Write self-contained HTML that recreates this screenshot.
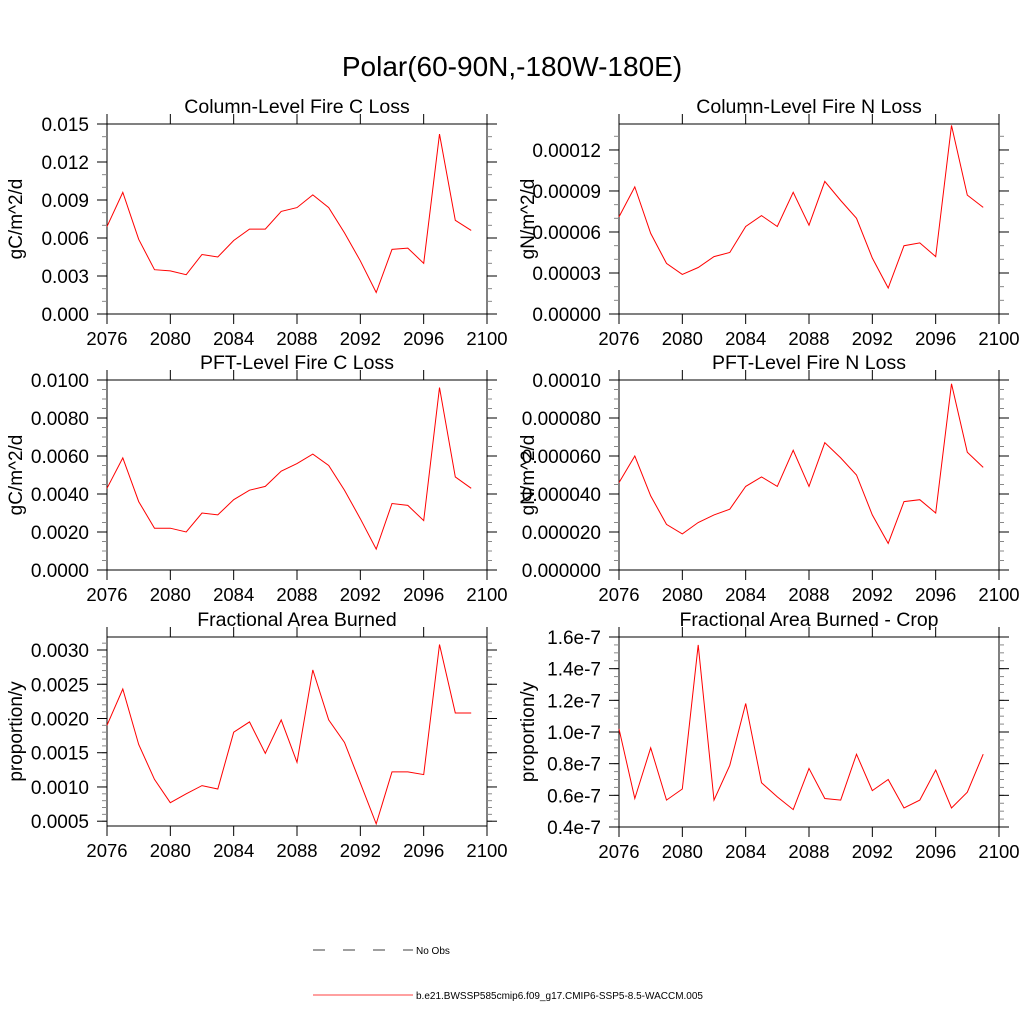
<!DOCTYPE html>
<html><head><meta charset="utf-8"><style>
body{margin:0;background:#fff;}
svg{display:block;font-family:"Liberation Sans",sans-serif;}
</style></head><body>
<svg id="c" width="1024" height="1024" viewBox="0 0 1024 1024" xmlns="http://www.w3.org/2000/svg">
<text x="512" y="76" font-size="28" text-anchor="middle">Polar(60-90N,-180W-180E)</text>
<g>
<line x1="313" y1="950" x2="413" y2="950" stroke="#000" stroke-width="0.8" stroke-dasharray="12,18"/>
<text x="416" y="954" font-size="10">No Obs</text>
<line x1="313" y1="995" x2="413" y2="995" stroke="red" stroke-width="0.8"/>
<text x="416" y="999" font-size="10">b.e21.BWSSP585cmip6.f09_g17.CMIP6-SSP5-8.5-WACCM.005</text>
</g>
</svg>
<script>
const years=[2076,2077,2078,2079,2080,2081,2082,2083,2084,2085,2086,2087,2088,2089,2090,2091,2092,2093,2094,2095,2096,2097,2098,2099];
const xTicks=[2076,2080,2084,2088,2092,2096,2100];
const colC=[.0069,.0096,.0059,.0035,.0034,.0031,.0047,.0045,.0058,.0067,.0067,.0081,.0084,.0094,.0084,.0064,.0042,.0017,.0051,.0052,.0040,.0142,.0074,.0066];
const colN=[7.1e-5,9.3e-5,5.9e-5,3.7e-5,2.9e-5,3.4e-5,4.2e-5,4.5e-5,6.4e-5,7.2e-5,6.4e-5,8.9e-5,6.5e-5,9.7e-5,8.3e-5,7.0e-5,4.1e-5,1.9e-5,5.0e-5,5.2e-5,4.2e-5,1.38e-4,8.7e-5,7.8e-5];
const pftC=[.0043,.0059,.0036,.0022,.0022,.0020,.0030,.0029,.0037,.0042,.0044,.0052,.0056,.0061,.0055,.0042,.0027,.0011,.0035,.0034,.0026,.0096,.0049,.0043];
const pftN=[4.6e-5,6.0e-5,3.9e-5,2.4e-5,1.9e-5,2.5e-5,2.9e-5,3.2e-5,4.4e-5,4.9e-5,4.4e-5,6.3e-5,4.4e-5,6.7e-5,5.9e-5,5.0e-5,2.9e-5,1.4e-5,3.6e-5,3.7e-5,3.0e-5,9.8e-5,6.2e-5,5.4e-5];
const farea=[.0019,.00243,.00162,.00111,.00077,.00090,.00102,.00097,.00180,.00195,.00149,.00198,.00136,.00271,.00198,.00165,.00106,.00046,.00122,.00122,.00118,.00308,.00208,.00208];
const fcrop=[1.02e-7,0.58e-7,0.90e-7,0.57e-7,0.64e-7,1.55e-7,0.57e-7,0.79e-7,1.18e-7,0.68e-7,0.59e-7,0.51e-7,0.77e-7,0.58e-7,0.57e-7,0.86e-7,0.63e-7,0.70e-7,0.52e-7,0.57e-7,0.76e-7,0.52e-7,0.62e-7,0.86e-7];
const tkC=["0.000","0.003","0.006","0.009","0.012","0.015"];
const tkN=["0.00000","0.00003","0.00006","0.00009","0.00012"];
const tkPC=["0.0000","0.0020","0.0040","0.0060","0.0080","0.0100"];
const tkPN=["0.000000","0.000020","0.000040","0.000060","0.000080","0.00010"];
const tkA=["0.0005","0.0010","0.0015","0.0020","0.0025","0.0030"];
const tkCrop=["0.4e-7","0.6e-7","0.8e-7","1.0e-7","1.2e-7","1.4e-7","1.6e-7"];
const tkCropV=[0.4e-7,0.6e-7,0.8e-7,1.0e-7,1.2e-7,1.4e-7,1.6e-7];
const NS="http://www.w3.org/2000/svg";
const svg=document.getElementById('c');
function mk(t,a,p){const e=document.createElementNS(NS,t);for(const k in a)e.setAttribute(k,a[k]);(p||svg).appendChild(e);return e;}
const panels=[
{n:'column-fire-c',t:'Column-Level Fire C Loss',yl:'gC/m^2/d',d:colC,x0:107,y0:124,y1:314,ymin:0,ymax:0.0150,tl:tkC,tv:tkC.map(Number),minor:0.001},
{n:'column-fire-n',t:'Column-Level Fire N Loss',yl:'gN/m^2/d',d:colN,x0:619,y0:124,y1:314,ymin:0,ymax:0.000139,tl:tkN,tv:tkN.map(Number),minor:0.00001},
{n:'pft-fire-c',t:'PFT-Level Fire C Loss',yl:'gC/m^2/d',d:pftC,x0:107,y0:380,y1:570,ymin:0,ymax:0.0100,tl:tkPC,tv:tkPC.map(Number),minor:0.0005},
{n:'pft-fire-n',t:'PFT-Level Fire N Loss',yl:'gN/m^2/d',d:pftN,x0:619,y0:380,y1:570,ymin:0,ymax:0.000100,tl:tkPN,tv:tkPN.map(Number),minor:0.000005},
{n:'fractional-area',t:'Fractional Area Burned',yl:'proportion/y',d:farea,x0:107,y0:637,y1:826,ymin:0.00043,ymax:0.00319,tl:tkA,tv:tkA.map(Number),minor:0.0001},
{n:'fractional-area-crop',t:'Fractional Area Burned - Crop',yl:'proportion/y',d:fcrop,x0:619,y0:637,y1:827,ymin:0.4e-7,ymax:1.6e-7,tl:tkCrop,tv:tkCropV,minor:0.05e-7}
];
panels.forEach(p=>{
 const W=380;
 const g=mk('g',{});
 
 
 const xs=v=>p.x0+(v-2076)/24*W;
 const ys=v=>p.y1-(v-p.ymin)/(p.ymax-p.ymin)*(p.y1-p.y0);
 const fr=mk('rect',{x:p.x0,y:p.y0,width:W,height:p.y1-p.y0,fill:'none',stroke:'#000','stroke-width':1},g);
 
 
 const tt=mk('text',{x:p.x0+W/2,y:p.y0-11,'font-size':19.5,'text-anchor':'middle'},g);
 tt.textContent=p.t;
 
 
 xTicks.forEach(v=>{
  const x=xs(v);
  mk('line',{x1:x,y1:p.y1,x2:x,y2:p.y1+10,stroke:'#000'},g);
  mk('line',{x1:x,y1:p.y0,x2:x,y2:p.y0-10,stroke:'#000'},g);
  const l=mk('text',{x:x,y:p.y1+31,'font-size':18.5,'text-anchor':'middle'},g);
  l.textContent=v;
  
  
 });
 const start=Math.ceil(p.ymin/p.minor-1e-6);
 for(let i=start;i*p.minor<=p.ymax+1e-15;i++){
  const y=ys(i*p.minor);
  mk('line',{x1:p.x0,y1:y,x2:p.x0-5,y2:y,stroke:'#888'},g);
  mk('line',{x1:p.x0+W,y1:y,x2:p.x0+W+5,y2:y,stroke:'#888'},g);
 }
 p.tv.forEach((v,i)=>{
  const y=ys(v);
  mk('line',{x1:p.x0,y1:y,x2:p.x0-10,y2:y,stroke:'#000'},g);
  mk('line',{x1:p.x0+W,y1:y,x2:p.x0+W+10,y2:y,stroke:'#000'},g);
  const l=mk('text',{x:p.x0-18,y:y+7,'font-size':19,'text-anchor':'end'},g);
  l.textContent=p.tl[i];
  
  
 });
 const cy=(p.y0+p.y1)/2;
 const yt=mk('text',{x:0,y:0,'font-size':19,'text-anchor':'middle',transform:`translate(${p.x0-85},${cy}) rotate(-90)`},g);
 yt.textContent=p.yl;
 
 
 const pts=p.d.map((v,i)=>xs(years[i]).toFixed(1)+','+ys(v).toFixed(1)).join(' ');
 const ln=mk('polyline',{points:pts,fill:'none',stroke:'red','stroke-width':1},g);
 
 
});
</script>
</body></html>
